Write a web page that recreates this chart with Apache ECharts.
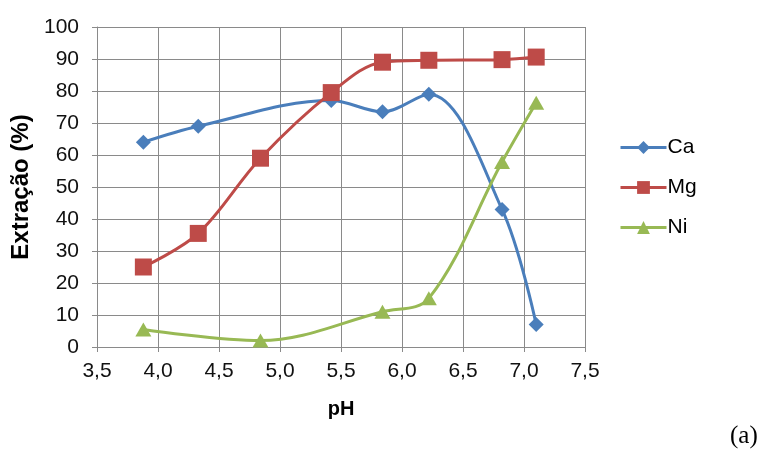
<!DOCTYPE html>
<html>
<head>
<meta charset="utf-8">
<script src="https://cdn.jsdelivr.net/npm/echarts@6/dist/echarts.min.js"></script>
<style>
  html, body { margin: 0; padding: 0; background: #fff; }
  #chart { width: 767px; height: 449px; }
</style>
</head>
<body>
<div id="chart"></div>
<script>
// pH values and extraction (%) for each metal
const caPH = [3.88, 4.33, 5.42, 5.84, 6.22, 6.82, 7.10];
const caExt = [64, 69, 77, 73.5, 79, 43, 7];

const mgPH = [3.88, 4.33, 4.84, 5.42, 5.84, 6.22, 6.82, 7.10];
const mgExt = [25, 35.5, 59, 79.5, 89, 89.6, 89.8, 90.6];

const niPH = [3.88, 4.84, 5.84, 6.22, 6.82, 7.10];
const niExt = [5.5, 2, 11, 15.2, 57.8, 76.3];

const seriesNames = ['Ca', 'Mg', 'Ni'];
const seriesColors = ['#4A7EBB', '#BE4B48', '#98B954'];
const seriesSymbols = ['diamond', 'rect', 'triangle'];
const seriesSymbolSizes = [[15, 15], 17, [16, 14]];

const pairs = (xs, ys) => xs.map((x, i) => [x, ys[i]]);
const seriesData = [pairs(caPH, caExt), pairs(mgPH, mgExt), pairs(niPH, niExt)];

const gridColor = '#8A8A8A';
const font = 'Liberation Sans, Arial, sans-serif';

const chart = echarts.init(document.getElementById('chart'), null, { renderer: 'canvas' });

chart.setOption({
  animation: false,
  backgroundColor: '#fff',
  grid: { left: 97, top: 27, width: 488, height: 320, containLabel: false },
  legend: {
    orient: 'vertical',
    left: 614,
    top: 132,
    itemWidth: 46,
    itemHeight: 16,
    itemGap: 19,
    lineStyle: { width: 3 },
    textStyle: { fontFamily: font, fontSize: 21, color: '#000', padding: [0, 0, 0, -4] },
    data: seriesNames
  },
  xAxis: {
    type: 'value',
    min: 3.5, max: 7.5, interval: 0.5,
    name: 'pH',
    nameLocation: 'middle',
    nameGap: 52,
    nameTextStyle: { fontFamily: font, fontSize: 20, fontWeight: 'bold', color: '#000' },
    axisLine: { show: true, lineStyle: { color: gridColor, width: 1 } },
    axisTick: { show: true, length: 5, lineStyle: { color: gridColor } },
    splitLine: { show: true, lineStyle: { color: gridColor, width: 1 } },
    axisLabel: {
      fontFamily: font, fontSize: 21, color: '#111', margin: 14,
      formatter: v => v.toFixed(1).replace('.', ',')
    }
  },
  yAxis: {
    type: 'value',
    min: 0, max: 100, interval: 10,
    name: 'Extração (%)',
    nameLocation: 'middle',
    nameGap: 61,
    nameRotate: 90,
    nameTextStyle: { fontFamily: font, fontSize: 24, fontWeight: 'bold', color: '#000' },
    axisLine: { show: true, lineStyle: { color: gridColor, width: 1 } },
    axisTick: { show: true, length: 5, lineStyle: { color: gridColor } },
    splitLine: { show: true, lineStyle: { color: gridColor, width: 1 } },
    axisLabel: { fontFamily: font, fontSize: 21, color: '#111', margin: 18 }
  },
  graphic: [{
    type: 'text',
    left: 730,
    top: 424,
    style: { text: '(a)', fontFamily: 'Liberation Serif, Times New Roman, serif', fontSize: 25, fill: '#000' }
  }],
  series: seriesNames.map((name, i) => ({
    name,
    type: 'line',
    data: seriesData[i],
    smooth: 0.35,
    symbol: seriesSymbols[i],
    symbolSize: seriesSymbolSizes[i],
    showAllSymbol: true,
    itemStyle: { color: seriesColors[i] },
    lineStyle: { color: seriesColors[i], width: 3 },
    z: 2 + i
  }))
});
</script>
</body>
</html>
